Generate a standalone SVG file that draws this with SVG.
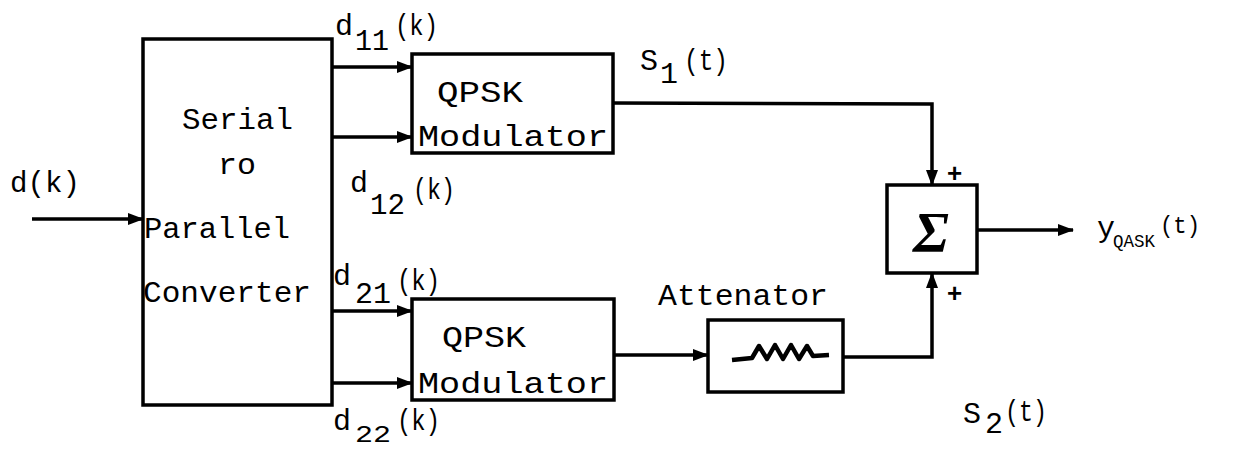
<svg xmlns="http://www.w3.org/2000/svg" width="1257" height="450" viewBox="0 0 1257 450">
<defs>
<marker id="ah" markerWidth="16" markerHeight="12" refX="15" refY="6" orient="auto" markerUnits="userSpaceOnUse">
<path d="M0,0 L16,6 L0,12 Z" fill="#000"/>
</marker>
<style>
.box{fill:#fff;stroke:#000;stroke-width:3.5}
.ln{fill:none;stroke:#000;stroke-width:3.5}
.t{font-family:"Liberation Mono","DejaVu Sans Mono",monospace;font-size:30px;fill:#000}
.s{font-family:"Liberation Mono","DejaVu Sans Mono",monospace;font-size:24px;fill:#000}
.ss{font-family:"Liberation Mono","DejaVu Sans Mono",monospace;font-size:18px;fill:#000}
.pl{font-family:"Liberation Sans",sans-serif;font-size:26px;font-weight:bold;fill:#000}
</style>
</defs>
<rect width="1257" height="450" fill="#fff"/>
<g id="connectors">
<line class="ln" x1="32" y1="219" x2="143" y2="219" marker-end="url(#ah)"/>
<line class="ln" x1="332" y1="67" x2="412" y2="67" marker-end="url(#ah)"/>
<line class="ln" x1="332" y1="137" x2="412" y2="137" marker-end="url(#ah)"/>
<line class="ln" x1="332" y1="311" x2="412" y2="311" marker-end="url(#ah)"/>
<line class="ln" x1="332" y1="383" x2="412" y2="383" marker-end="url(#ah)"/>
<line class="ln" x1="614" y1="355" x2="708" y2="355" marker-end="url(#ah)"/>
<polyline class="ln" points="613,103 932,104 932,185" marker-end="url(#ah)"/>
<polyline class="ln" points="843,357 932,357 932,273" marker-end="url(#ah)"/>
<line class="ln" x1="977" y1="230" x2="1073" y2="230" marker-end="url(#ah)"/>
</g>
<g id="converter">
<rect class="box" x="143" y="39" width="189" height="366"/>
<text class="t" x="182" y="129" textLength="111" lengthAdjust="spacingAndGlyphs">Serial</text>
<text class="t" x="218" y="174" textLength="38" lengthAdjust="spacingAndGlyphs">ro</text>
<text class="t" x="144" y="238" textLength="146" lengthAdjust="spacingAndGlyphs">Parallel</text>
<text class="t" x="143" y="302" textLength="168" lengthAdjust="spacingAndGlyphs">Converter</text>
</g>
<g id="qpsk1">
<rect class="box" x="412" y="54" width="201" height="99"/>
<text class="t" x="437" y="102" textLength="86" lengthAdjust="spacingAndGlyphs">QPSK</text>
<text class="t" x="418" y="146" textLength="190" lengthAdjust="spacingAndGlyphs">Modulator</text>
</g>
<g id="qpsk2">
<rect class="box" x="412" y="299" width="202" height="101"/>
<text class="t" x="442" y="347" textLength="84" lengthAdjust="spacingAndGlyphs">QPSK</text>
<text class="t" x="418" y="393" textLength="190" lengthAdjust="spacingAndGlyphs">Modulator</text>
</g>
<g id="attenuator">
<rect class="box" x="708" y="320" width="135" height="72"/>
<path fill="none" stroke="#000" stroke-width="4.5" stroke-linejoin="round" d="M732,360 L752,358 L759,346 L767,359 L775,345 L783,359 L791,345 L799,359 L807,346 L813,356 L829,355"/>
<text class="t" x="658" y="305" textLength="170" lengthAdjust="spacingAndGlyphs">Attenator</text>
</g>
<g id="sum">
<rect class="box" x="887" y="185" width="90" height="88"/>
<text x="931" y="252" text-anchor="middle" font-family="Liberation Serif,serif" font-size="58" font-weight="bold" font-style="italic">Σ</text>
<text class="pl" x="947" y="182">+</text>
<text class="pl" x="947" y="302">+</text>
</g>
<g id="labels">
<text class="t" x="10" y="192" textLength="70" lengthAdjust="spacingAndGlyphs">d(k)</text>
<text class="t" x="335" y="35">d</text><text class="t" x="355" y="50" textLength="34" lengthAdjust="spacingAndGlyphs">11</text><text class="t" x="395" y="35" textLength="43" lengthAdjust="spacingAndGlyphs">(k)</text>
<text class="t" x="350" y="192">d</text><text class="t" x="370" y="214" textLength="35" lengthAdjust="spacingAndGlyphs">12</text><text class="t" x="413" y="199" textLength="42" lengthAdjust="spacingAndGlyphs">(k)</text>
<text class="t" x="333" y="285">d</text><text class="t" x="355" y="303" textLength="36" lengthAdjust="spacingAndGlyphs">21</text><text class="t" x="397" y="290" textLength="43" lengthAdjust="spacingAndGlyphs">(k)</text>
<text class="t" x="333" y="430">d</text><text class="s" x="355" y="442" textLength="36" lengthAdjust="spacingAndGlyphs">22</text><text class="t" x="397" y="430" textLength="43" lengthAdjust="spacingAndGlyphs">(k)</text>
<text class="t" x="640" y="70">S</text><text class="t" x="660" y="83">1</text><text class="t" x="684" y="70" textLength="44" lengthAdjust="spacingAndGlyphs">(t)</text>
<text class="t" x="963" y="423">S</text><text class="t" x="985" y="433">2</text><text class="t" x="1005" y="421" textLength="42" lengthAdjust="spacingAndGlyphs">(t)</text>
<text class="t" x="1097" y="237">y</text><text class="ss" x="1113" y="247" textLength="42" lengthAdjust="spacingAndGlyphs">QASK</text><text class="s" x="1160" y="233" textLength="40" lengthAdjust="spacingAndGlyphs">(t)</text>
</g>
</svg>
